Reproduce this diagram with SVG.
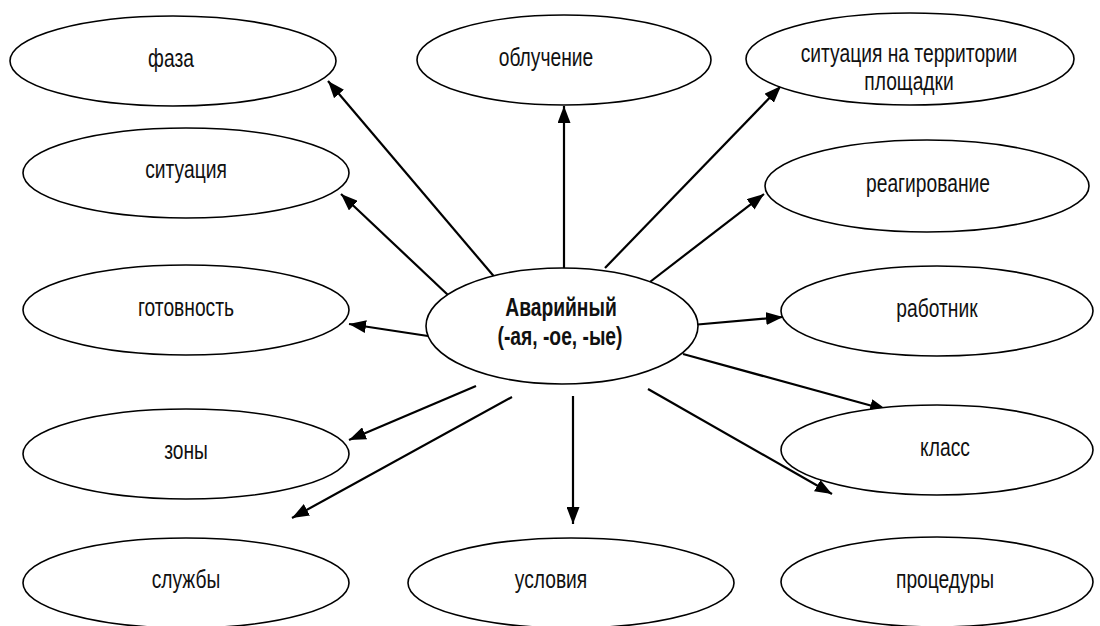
<svg xmlns="http://www.w3.org/2000/svg" width="1100" height="626" viewBox="0 0 1100 626">
<style>
.n ellipse{fill:#fff;stroke:#000;stroke-width:1.6}
.t{font-family:"Liberation Sans",Arial,sans-serif;font-size:26px;fill:#111;text-anchor:middle}
.b{font-weight:bold;font-size:25px}
.c line{stroke:#000;stroke-width:2.2;marker-end:url(#ah)}
</style>
<defs>
<marker id="ah" markerUnits="userSpaceOnUse" viewBox="0 0 17 13" markerWidth="17" markerHeight="13" refX="17" refY="6.5" orient="auto">
<path d="M0,0 L17,6.5 L0,13 z" fill="#000"/>
</marker>
</defs>
<rect width="1100" height="626" fill="#fff"/>
<g id="connectors" class="c">
<line x1="497" y1="280" x2="328" y2="81"/>
<line x1="448" y1="295" x2="341" y2="194"/>
<line x1="428" y1="336" x2="349" y2="324"/>
<line x1="476" y1="386" x2="349" y2="440"/>
<line x1="512" y1="397" x2="292" y2="518"/>
<line x1="573" y1="396" x2="573" y2="524"/>
<line x1="648" y1="389" x2="832" y2="494"/>
<line x1="683" y1="354" x2="887" y2="410"/>
<line x1="692" y1="325" x2="783" y2="317"/>
<line x1="646" y1="285" x2="764" y2="194"/>
<line x1="605" y1="268" x2="781" y2="86"/>
<line x1="564" y1="270" x2="564" y2="106"/>
</g>
<g id="center" class="n">
<ellipse cx="562" cy="326" rx="136" ry="58"/>
<text class="t b" transform="translate(561,316) scale(0.77,1)">Аварийный</text>
<text class="t b" transform="translate(560,345) scale(0.77,1)">(-ая, -ое, -ые)</text>
</g>
<g id="faza" class="n">
<ellipse cx="173" cy="61" rx="163" ry="45"/>
<text class="t" transform="translate(171,67) scale(0.74,1)">фаза</text>
</g>
<g id="situatsiya" class="n">
<ellipse cx="186" cy="173" rx="163" ry="45"/>
<text class="t" transform="translate(186,178) scale(0.74,1)">ситуация</text>
</g>
<g id="gotovnost" class="n">
<ellipse cx="186" cy="310" rx="163" ry="45"/>
<text class="t" transform="translate(186,316) scale(0.74,1)">готовность</text>
</g>
<g id="zony" class="n">
<ellipse cx="186" cy="454" rx="163" ry="45"/>
<text class="t" transform="translate(186,459) scale(0.74,1)">зоны</text>
</g>
<g id="sluzhby" class="n">
<ellipse cx="186" cy="583" rx="163" ry="45"/>
<text class="t" transform="translate(186,588) scale(0.74,1)">службы</text>
</g>
<g id="usloviya" class="n">
<ellipse cx="571" cy="583" rx="163" ry="45"/>
<text class="t" transform="translate(551,588) scale(0.74,1)">условия</text>
</g>
<g id="protsedury" class="n">
<ellipse cx="937" cy="582" rx="156" ry="45"/>
<text class="t" transform="translate(945,588) scale(0.74,1)">процедуры</text>
</g>
<g id="klass" class="n">
<ellipse cx="937" cy="450" rx="156" ry="45"/>
<text class="t" transform="translate(945,456) scale(0.74,1)">класс</text>
</g>
<g id="rabotnik" class="n">
<ellipse cx="937" cy="311" rx="156" ry="45"/>
<text class="t" transform="translate(937,317) scale(0.74,1)">работник</text>
</g>
<g id="reagirovanie" class="n">
<ellipse cx="927" cy="186" rx="162" ry="46"/>
<text class="t" transform="translate(928,192) scale(0.74,1)">реагирование</text>
</g>
<g id="situatsiya-territorii" class="n">
<ellipse cx="910" cy="59" rx="164" ry="46"/>
<text class="t" transform="translate(909,62) scale(0.74,1)">ситуация на территории</text>
<text class="t" transform="translate(909,90) scale(0.74,1)">площадки</text>
</g>
<g id="obluchenie" class="n">
<ellipse cx="564" cy="60" rx="147" ry="45"/>
<text class="t" transform="translate(546,66) scale(0.74,1)">облучение</text>
</g>
</svg>
